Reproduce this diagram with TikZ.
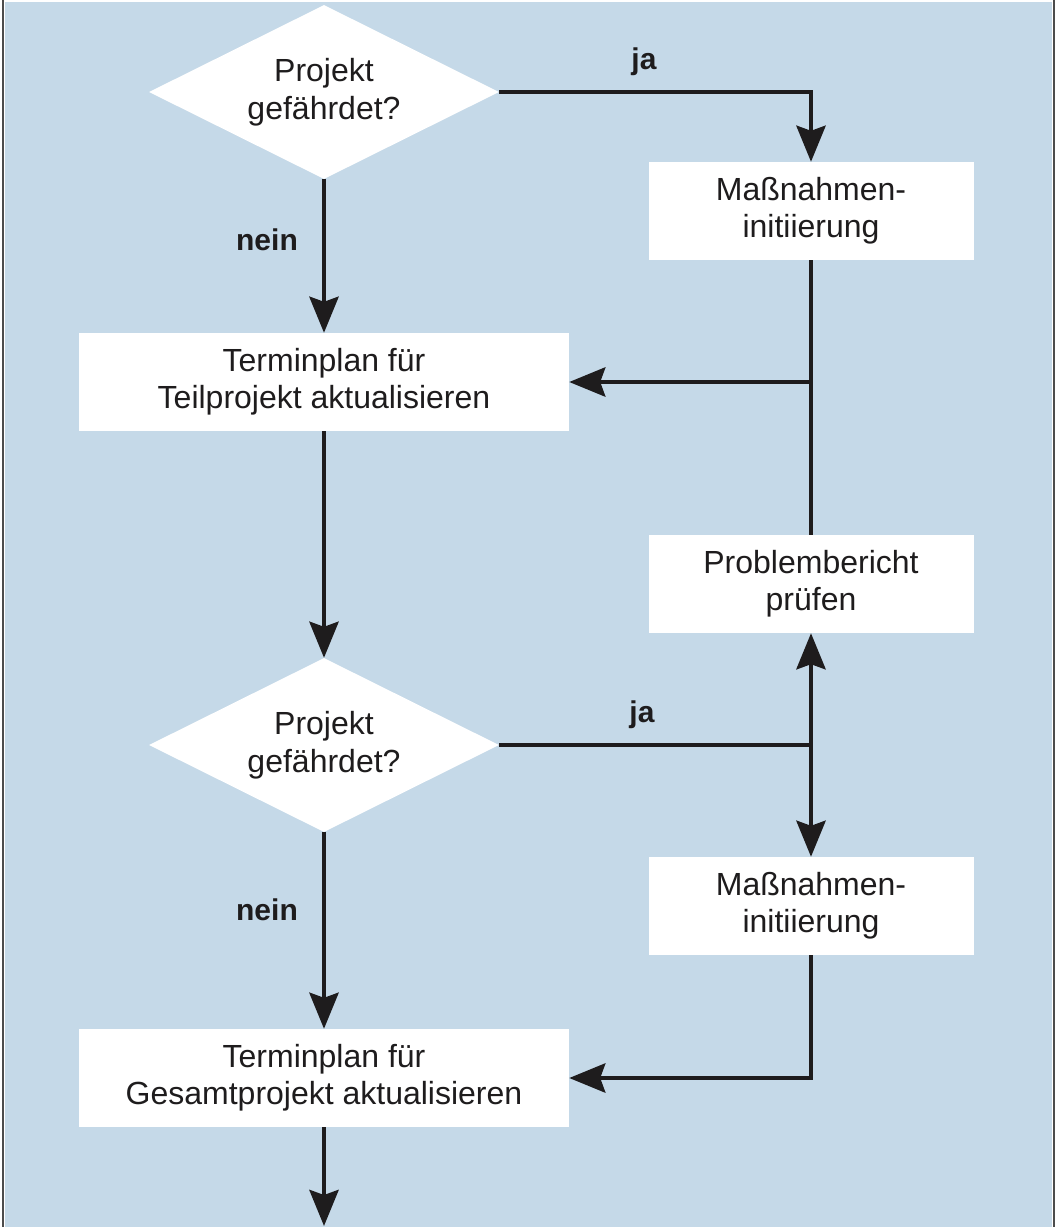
\documentclass[tikz,border=0pt]{standalone}
\usepackage{fontspec}
\setmainfont{Liberation Sans}
\usetikzlibrary{arrows.meta, shapes.geometric}
\definecolor{panel}{RGB}{197,217,232}
\definecolor{ink}{RGB}{30,28,29}
\tikzset{>={Stealth[length = 36pt, width = 29pt, inset = 5pt]}}
\tikzset{
  decision/.style = {diamond, aspect = 2, fill = white, minimum width = 350pt, minimum height = 174pt,
    inner sep = 0pt, align = center, text = ink, font = \fontsize{32}{38}\selectfont},
  task/.style = {rectangle, fill = white, minimum height = 98pt, inner sep = 0pt,
    align = center, text = ink, font = \fontsize{32}{37}\selectfont},
  answer/.style = {text = ink, font = \bfseries\fontsize{30}{36}\selectfont},
  flow/.style = {draw = ink, line width = 4.8pt},
}

\begin{document}
\begin{tikzpicture}[x = 1pt, y = -1pt]
    \useasboundingbox (0,0) rectangle (1057,1227);
    % panel and its edges
    \fill [white] (0,0) rectangle (1057,1227);
    \fill [panel] (5,2) rectangle (1052,1227);
    \draw [gray!60!black, line width = 1.5pt] (3,0) -- (3,1227);
    \draw [gray!60!black, line width = 1.5pt] (1054,0) -- (1054,1227);

    % left column
    \node [decision] (q1) at (324,92) {Projekt\\gefährdet?};
    \node [task, minimum width = 490pt] (plan1) at (324,382) {Terminplan für\\Teilprojekt aktualisieren};
    \node [decision] (q2) at (324,745) {Projekt\\gefährdet?};
    \node [task, minimum width = 490pt] (plan2) at (324,1078) {Terminplan für\\Gesamtprojekt aktualisieren};

    % right column
    \node [task, minimum width = 325pt] (act1) at (811,211) {Maßnahmen-\\initiierung};
    \node [task, minimum width = 325pt] (check) at (811,584) {Problembericht\\prüfen};
    \node [task, minimum width = 325pt] (act2) at (811,906) {Maßnahmen-\\initiierung};

    \coordinate (fork1) at (811,382);
    \coordinate (fork2) at (811,745);
    \coordinate (exit) at (324,1226);

    % answers
    \node [answer, anchor = base] (ja1) at (644,69) {ja};
    \node [answer] (nein1) at (267,240) {nein};
    \node [answer, anchor = base] (ja2) at (642,722) {ja};
    \node [answer] (nein2) at (267,910) {nein};

    % connectors
    \draw [flow, ->] (q1.east) -| (act1.north);
    \draw [flow, ->] (q1.south) -- (plan1.north);
    \draw [flow] (act1.south) -- (check.north);
    \draw [flow, ->] (fork1) -- (plan1.east);
    \draw [flow, ->] (plan1.south) -- (q2.north);
    \draw [flow] (q2.east) -- (fork2);
    \draw [flow, ->] (fork2) -- (check.south);
    \draw [flow, ->] (fork2) -- (act2.north);
    \draw [flow, ->] (q2.south) -- (plan2.north);
    \draw [flow, ->] (act2.south) |- (plan2.east);
    \draw [flow, ->] (plan2.south) -- (exit);
\end{tikzpicture}
\end{document}
